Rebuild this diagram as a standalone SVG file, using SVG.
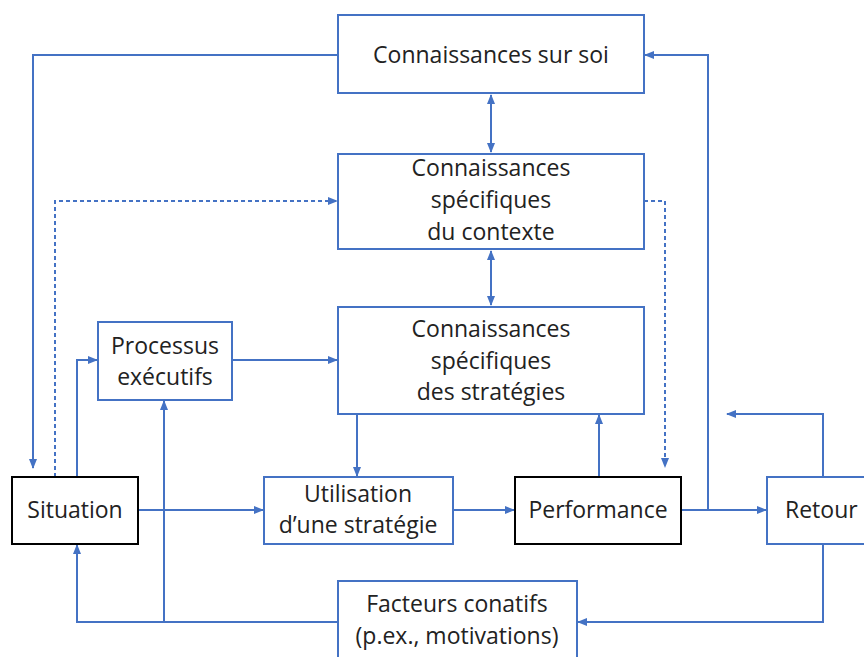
<svg xmlns="http://www.w3.org/2000/svg" width="864" height="657" viewBox="0 0 864 657">
<style>
.box{fill:#fff;stroke:#4472C4;stroke-width:2}
.bk{fill:#fff;stroke:#000;stroke-width:2}
text{font-family:"Open Sans","Noto Sans",sans-serif;font-size:23px;fill:#222;text-anchor:middle}
.ln{fill:none;stroke:#4472C4;stroke-width:2}
.ds{fill:none;stroke:#4472C4;stroke-width:2;stroke-dasharray:4 3}
</style>
<defs>
<marker id="a" viewBox="0 0 10 10" refX="9" refY="5" markerWidth="5" markerHeight="5" orient="auto-start-reverse" markerUnits="strokeWidth">
<path d="M0,1 L10,5 L0,9 z" fill="#4472C4"/>
</marker>
</defs>
<rect width="864" height="657" fill="#fff"/>
<g id="connectors">
<path class="ln" d="M338,55 H33 V468" marker-end="url(#a)"/>
<path class="ds" d="M55,477 V201 H337" marker-end="url(#a)"/>
<path class="ds" d="M644,201 H665 V467" marker-end="url(#a)"/>
<path class="ln" d="M681,510 H708 V55 H645" marker-end="url(#a)"/>
<path class="ln" d="M491,95 V152" marker-start="url(#a)" marker-end="url(#a)"/>
<path class="ln" d="M491,251 V305" marker-start="url(#a)" marker-end="url(#a)"/>
<path class="ln" d="M77,477 V360 H97" marker-end="url(#a)"/>
<path class="ln" d="M232,360 H337" marker-end="url(#a)"/>
<path class="ln" d="M357,414 V476" marker-end="url(#a)"/>
<path class="ln" d="M138,510 H263" marker-end="url(#a)"/>
<path class="ln" d="M453,510 H514" marker-end="url(#a)"/>
<path class="ln" d="M599,477 V415" marker-end="url(#a)"/>
<path class="ln" d="M681,510 H766" marker-end="url(#a)"/>
<path class="ln" d="M823,477 V414 H727" marker-end="url(#a)"/>
<path class="ln" d="M823,544 V622 H578" marker-end="url(#a)"/>
<path class="ln" d="M338,622 H77 V545" marker-end="url(#a)"/>
<path class="ln" d="M164,622 V401" marker-end="url(#a)"/>
</g>
<g id="n1"><rect class="box" x="338" y="15" width="306" height="78"/><text x="491" y="63">Connaissances sur soi</text></g>
<g id="n2"><rect class="box" x="338" y="154" width="306" height="95"/><text x="491" y="176">Connaissances</text><text x="491" y="208">spécifiques</text><text x="491" y="240">du contexte</text></g>
<g id="n3"><rect class="box" x="338" y="307" width="306" height="107"/><text x="491" y="337">Connaissances</text><text x="491" y="369">spécifiques</text><text x="491" y="400">des stratégies</text></g>
<g id="n4"><rect class="box" x="98" y="322" width="134" height="78"/><text x="165" y="354">Processus</text><text x="165" y="385">exécutifs</text></g>
<g id="n5"><rect class="bk" x="12" y="477" width="126" height="67"/><text x="75" y="518">Situation</text></g>
<g id="n6"><rect class="box" x="264" y="477" width="189" height="67"/><text x="358" y="502">Utilisation</text><text x="358" y="533">d’une stratégie</text></g>
<g id="n7"><rect class="bk" x="515" y="477" width="166" height="67"/><text x="598" y="518">Performance</text></g>
<g id="n8"><rect class="box" x="767" y="477" width="110" height="67"/><text x="785" y="518" style="text-anchor:start">Retour</text></g>
<g id="n9"><rect class="box" x="338" y="581" width="239" height="90"/><text x="457" y="612">Facteurs conatifs</text><text x="457" y="644">(p.ex., motivations)</text></g>
</svg>
